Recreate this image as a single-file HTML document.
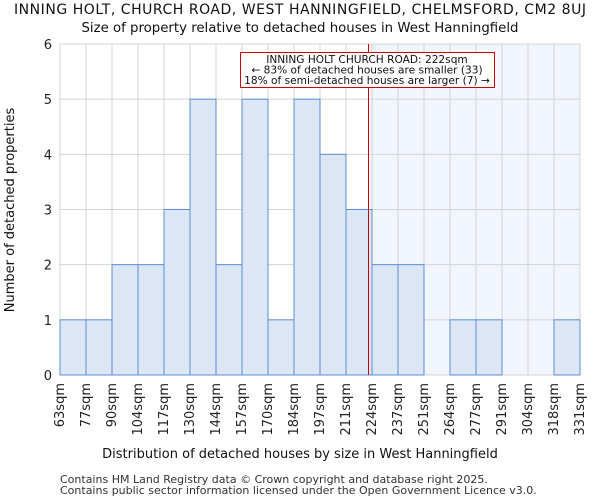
<!DOCTYPE html>
<html><head><meta charset="utf-8"><style>body{margin:0;background:#fff}svg{display:block;font-family:"DejaVu Sans","Liberation Sans",sans-serif}</style></head>
<body>
<svg id="c" width="600" height="500"></svg>
<script>
const categories=["63sqm","77sqm","90sqm","104sqm","117sqm","130sqm","144sqm","157sqm","170sqm","184sqm","197sqm","211sqm","224sqm","237sqm","251sqm","264sqm","277sqm","291sqm","304sqm","318sqm","331sqm"];
const counts=[1,1,2,2,3,5,2,5,1,5,4,3,2,2,0,1,1,0,0,1];
const yTicks=[0,1,2,3,4,5,6];
const markerValue=222;
const binStart=63, binStep=13.4;
const L=60,R=580,T=44,B=375,yMax=6;
const svg=document.getElementById('c');const NS='http://www.w3.org/2000/svg';
function el(t,a,txt){const e=document.createElementNS(NS,t);for(const k in a)e.setAttribute(k,a[k]);if(txt!=null)e.textContent=txt;svg.appendChild(e);return e;}
const n=counts.length,bw=(R-L)/n;
const xi=i=>L+i*bw;
const xv=v=>L+(v-binStart)/binStep*bw;
const y=v=>B-v/yMax*(B-T);
const mx=xv(markerValue);
let e=el('rect',{x:mx+2,y:T,width:R-mx-2,height:B-T,fill:'#f1f5fd'});


for(let i=0;i<=n;i++){e=el('line',{x1:xi(i),x2:xi(i),y1:T,y2:B,stroke:'#d4d4d4','stroke-width':1});

}
yTicks.forEach(t=>{e=el('line',{x1:L,x2:R,y1:y(t),y2:y(t),stroke:'#d4d4d4','stroke-width':1});


e=el('text',{x:L-8,y:y(t)+5,'text-anchor':'end','font-size':13,fill:'#222'},t);

});
counts.forEach((c,i)=>{if(!c)return;e=el('rect',{x:xi(i),y:y(c),width:bw,height:B-y(c),fill:'#dce6f5',stroke:'#5a8fd6','stroke-width':1});

});
categories.forEach((c,i)=>{const x=xi(i)+4;e=el('text',{x:x,y:383,'text-anchor':'end','font-size':13,fill:'#222',transform:`rotate(-90 ${x} 383)`},c);

});
e=el('line',{x1:mx,x2:mx,y1:T,y2:B,stroke:'#cc0000','stroke-width':1});


e=el('rect',{x:240.5,y:52.5,width:254,height:35,fill:'#fff',stroke:'#cc0000','stroke-width':1});


["INNING HOLT CHURCH ROAD: 222sqm","← 83% of detached houses are smaller (33)","18% of semi-detached houses are larger (7) →"].forEach((t,i)=>{e=el('text',{x:367,y:63+i*10.5,'text-anchor':'middle','font-size':10.6,fill:'#111'},t);

});
e=el('text',{x:300,y:14,'text-anchor':'middle','font-size':14,fill:'#111',textLength:572},"INNING HOLT, CHURCH ROAD, WEST HANNINGFIELD, CHELMSFORD, CM2 8UJ");


e=el('text',{x:300,y:32,'text-anchor':'middle','font-size':13.3,fill:'#111'},"Size of property relative to detached houses in West Hanningfield");


e=el('text',{x:300,y:458,'text-anchor':'middle','font-size':13,fill:'#111'},"Distribution of detached houses by size in West Hanningfield");


e=el('text',{x:14,y:210,'text-anchor':'middle','font-size':13,fill:'#111',transform:'rotate(-90 14 210)'},"Number of detached properties");


e=el('text',{x:60,y:483,'font-size':11,fill:'#333'},"Contains HM Land Registry data © Crown copyright and database right 2025.");


e=el('text',{x:60,y:494,'font-size':11,fill:'#333'},"Contains public sector information licensed under the Open Government Licence v3.0.");


</script>
</body></html>
